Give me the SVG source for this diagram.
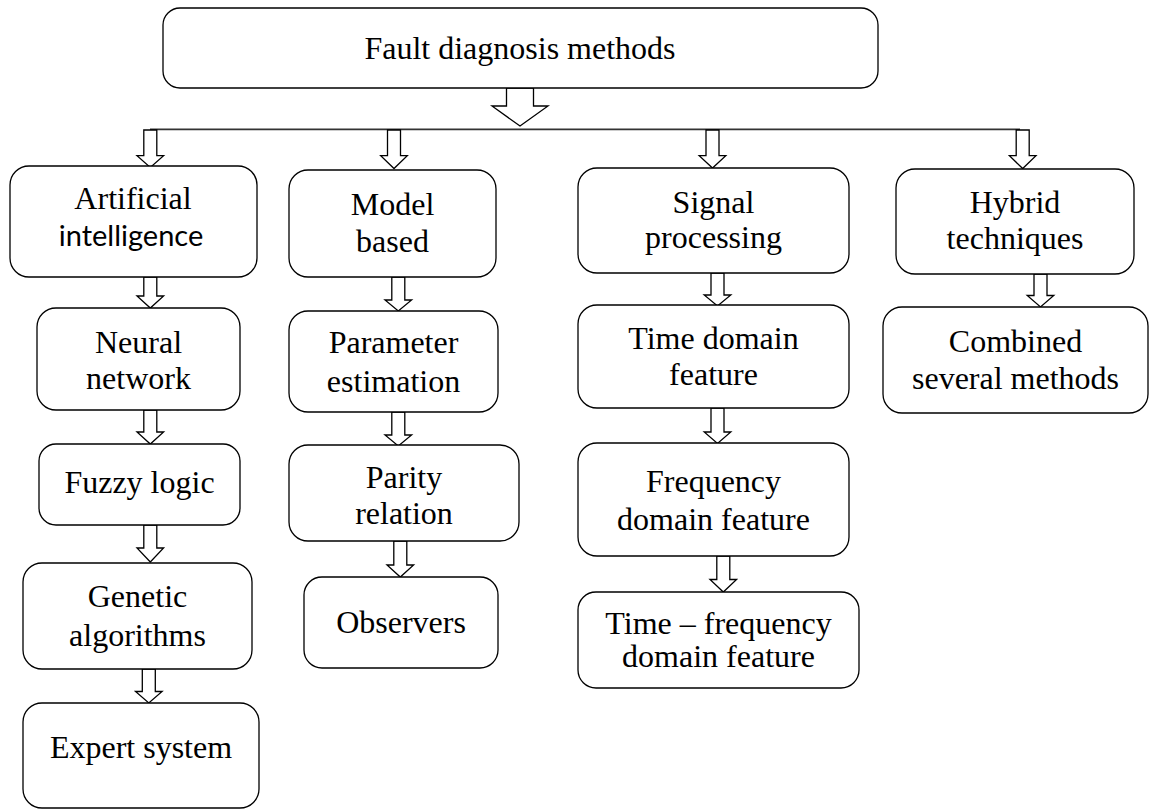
<svg xmlns="http://www.w3.org/2000/svg" width="1152" height="809" viewBox="0 0 1152 809">
  <style>
    .box { fill: #fff; stroke: #000; stroke-width: 1.3; }
    .t { font-family: "Liberation Serif", "Times New Roman", serif; font-size: 32px; text-anchor: middle; fill: #000; }
    .s { font-family: Lato, "Open Sans", sans-serif; font-size: 29px; text-anchor: middle; fill: #000; }
    .arr { fill: #fff; stroke: #000; stroke-width: 1.3; stroke-linejoin: miter; }
    .bus { fill: none; stroke: #333; stroke-width: 1.8; }
  </style>

  <rect width="1152" height="809" fill="#fff"/>

  <!-- connectors: bus line and hollow block arrows -->
  <g id="connectors">
    <polygon class="arr" points="506.5,88 533.5,88 533.5,106 548,106 520,126 492,106 506.5,106"/>
    <line class="bus" x1="150" y1="129.3" x2="1020" y2="129.3"/>
    <!-- bus to category boxes -->
    <polygon class="arr" points="143.8,130 156.8,130 156.8,155.7 163.6,155.7 150.3,167.5 137,155.7 143.8,155.7"/>
    <polygon class="arr" points="387.5,130 400.5,130 400.5,155.7 407.3,155.7 394,168.5 380.7,155.7 387.5,155.7"/>
    <polygon class="arr" points="706,130 719,130 719,155.7 725.8,155.7 712.5,168 699.2,155.7 706,155.7"/>
    <polygon class="arr" points="1016.2,130 1029.2,130 1029.2,155.7 1036,155.7 1022.7,168.5 1009.4,155.7 1016.2,155.7"/>
    <!-- artificial intelligence column -->
    <polygon class="arr" points="143.8,277 156.8,277 156.8,296 163.6,296 150.3,308 137,296 143.8,296"/>
    <polygon class="arr" points="143.8,410 156.8,410 156.8,432 163.6,432 150.3,444 137,432 143.8,432"/>
    <polygon class="arr" points="143.8,525 156.8,525 156.8,548 163.6,548 150.3,562 137,548 143.8,548"/>
    <polygon class="arr" points="142.3,669 155.3,669 155.3,691.5 162.1,691.5 148.8,703 135.5,691.5 142.3,691.5"/>
    <!-- model based column -->
    <polygon class="arr" points="391.8,277 404.8,277 404.8,300 411.6,300 398.3,311 385,300 391.8,300"/>
    <polygon class="arr" points="391.8,412 404.8,412 404.8,435 411.6,435 398.3,446 385,435 391.8,435"/>
    <polygon class="arr" points="393.8,541 406.8,541 406.8,565 413.6,565 400.3,577 387,565 393.8,565"/>
    <!-- signal processing column -->
    <polygon class="arr" points="711,273 724,273 724,295 730.8,295 717.5,306 704.2,295 711,295"/>
    <polygon class="arr" points="711,408 724,408 724,432 730.8,432 717.5,443.5 704.2,432 711,432"/>
    <polygon class="arr" points="716.8,556 729.8,556 729.8,579.5 736.6,579.5 723.3,592 710,579.5 716.8,579.5"/>
    <!-- hybrid column -->
    <polygon class="arr" points="1034,274 1047,274 1047,295.5 1053.8,295.5 1040.5,307 1027.2,295.5 1034,295.5"/>
  </g>

  <g id="root">
    <rect class="box" x="163" y="8" width="715" height="80" rx="17"/>
    <text class="t" x="520" y="59">Fault diagnosis methods</text>
  </g>

  <!-- artificial intelligence branch -->
  <g id="ai">
    <rect class="box" x="10" y="166" width="247" height="111" rx="19"/>
    <text class="t" x="133" y="209">Artificial</text>
    <text class="s" x="131" y="246">intelligence</text>
  </g>
  <g id="neural">
    <rect class="box" x="37" y="308" width="203" height="102" rx="19"/>
    <text class="t" x="138.5" y="353">Neural</text>
    <text class="t" x="138.5" y="389">network</text>
  </g>
  <g id="fuzzy">
    <rect class="box" x="39" y="444" width="201" height="81" rx="17"/>
    <text class="t" x="139.5" y="493">Fuzzy logic</text>
  </g>
  <g id="genetic">
    <rect class="box" x="23" y="563" width="229" height="106" rx="19"/>
    <text class="t" x="137.5" y="607">Genetic</text>
    <text class="t" x="137.5" y="646">algorithms</text>
  </g>
  <g id="expert">
    <rect class="box" x="23" y="703" width="236" height="105" rx="19"/>
    <text class="t" x="141" y="758">Expert system</text>
  </g>

  <!-- model based branch -->
  <g id="model">
    <rect class="box" x="289" y="170" width="207" height="107" rx="19"/>
    <text class="t" x="392.5" y="215">Model</text>
    <text class="t" x="392.5" y="252">based</text>
  </g>
  <g id="parameter">
    <rect class="box" x="289" y="311" width="209" height="101" rx="19"/>
    <text class="t" x="393.5" y="353">Parameter</text>
    <text class="t" x="393.5" y="392">estimation</text>
  </g>
  <g id="parity">
    <rect class="box" x="289" y="445" width="230" height="96" rx="19"/>
    <text class="t" x="404" y="488">Parity</text>
    <text class="t" x="404" y="524">relation</text>
  </g>
  <g id="observers">
    <rect class="box" x="304" y="577" width="194" height="91" rx="18"/>
    <text class="t" x="401" y="633">Observers</text>
  </g>

  <!-- signal processing branch -->
  <g id="signal">
    <rect class="box" x="578" y="168" width="271" height="105" rx="19"/>
    <text class="t" x="713.5" y="213">Signal</text>
    <text class="t" x="713.5" y="248">processing</text>
  </g>
  <g id="time">
    <rect class="box" x="578" y="305" width="271" height="103" rx="19"/>
    <text class="t" x="713.5" y="349">Time domain</text>
    <text class="t" x="713.5" y="385">feature</text>
  </g>
  <g id="frequency">
    <rect class="box" x="578" y="443" width="271" height="113" rx="19"/>
    <text class="t" x="713.5" y="492">Frequency</text>
    <text class="t" x="713.5" y="530">domain feature</text>
  </g>
  <g id="timefrequency">
    <rect class="box" x="578" y="592" width="281" height="96" rx="18"/>
    <text class="t" x="718.5" y="634">Time – frequency</text>
    <text class="t" x="718.5" y="667">domain feature</text>
  </g>

  <!-- hybrid branch -->
  <g id="hybrid">
    <rect class="box" x="896" y="169" width="238" height="105" rx="19"/>
    <text class="t" x="1015" y="213">Hybrid</text>
    <text class="t" x="1015" y="249">techniques</text>
  </g>
  <g id="combined">
    <rect class="box" x="883" y="307" width="265" height="106" rx="19"/>
    <text class="t" x="1015.5" y="352">Combined</text>
    <text class="t" x="1015.5" y="389">several methods</text>
  </g>
</svg>
